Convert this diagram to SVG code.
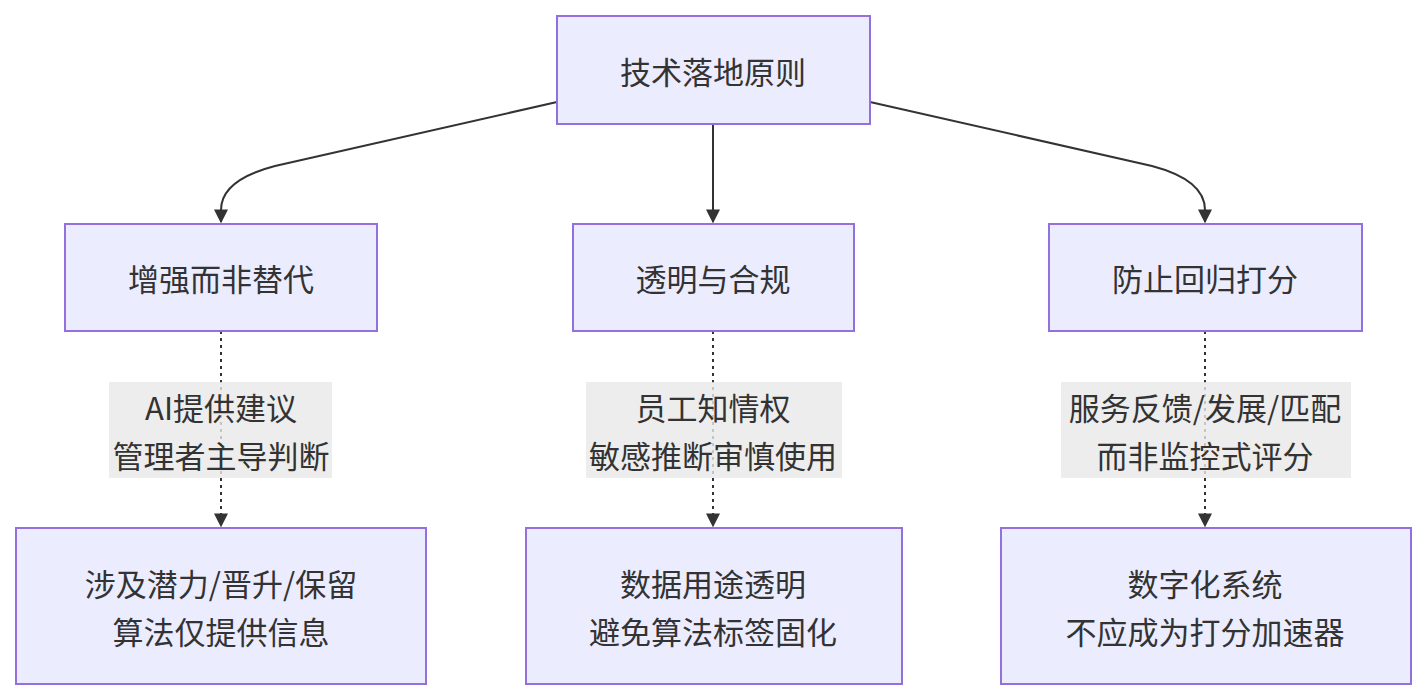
<svg xmlns="http://www.w3.org/2000/svg" width="1425" height="700" viewBox="0 0 1425 700">
<style>
.n{fill:#ECECFF;stroke:#9370DB;stroke-width:2}
.t{font-family:"Noto Sans CJK SC","Noto Sans",sans-serif;font-size:31px;fill:#333;text-anchor:middle;dominant-baseline:central}
.e{fill:none;stroke:#333;stroke-width:2}
.d{stroke-dasharray:3 4}
.lb{fill:rgba(232,232,232,0.8)}
</style>
<defs><marker id="a" viewBox="0 0 10 10" refX="9" refY="5" markerWidth="7" markerHeight="7" markerUnits="userSpaceOnUse" orient="auto"><path d="M0,0L10,5L0,10z" fill="#333"/></marker>
<marker id="ah" viewBox="0 0 10 10" refX="9" refY="5" markerWidth="14" markerHeight="14" markerUnits="userSpaceOnUse" orient="auto"><path d="M0,0L10,5L0,10z" fill="#333"/></marker></defs>
<g id="edges">
<path class="e" d="M557,102 L275,166 Q221,180 221,210 L221,222" marker-end="url(#ah)"/>
<path class="e" d="M870,102 L1152,166 Q1205,180 1205,210 L1205,222" marker-end="url(#ah)"/>
<path class="e" d="M713,124 L713,222" marker-end="url(#ah)"/>
<path class="e d" d="M221,331 L221,526" marker-end="url(#ah)"/>
<path class="e d" d="M713,331 L713,526" marker-end="url(#ah)"/>
<path class="e d" d="M1205,331 L1205,526" marker-end="url(#ah)"/>
<rect class="lb" x="109" y="382" width="223" height="96"/>
<text class="t" x="221" y="406">AI提供建议</text><text class="t" x="221" y="454">管理者主导判断</text>
<rect class="lb" x="586" y="382" width="256" height="96"/>
<text class="t" x="713" y="406">员工知情权</text><text class="t" x="713" y="454">敏感推断审慎使用</text>
<rect class="lb" x="1061" y="382" width="290" height="96"/>
<text class="t" x="1205" y="406">服务反馈/发展/匹配</text><text class="t" x="1205" y="454">而非监控式评分</text>
</g>
<g id="root"><rect class="n" x="557" y="16" width="313" height="108"/><text class="t" x="713" y="70">技术落地原则</text></g>
<g id="n1"><rect class="n" x="65" y="224" width="312" height="107"/><text class="t" x="221" y="277">增强而非替代</text></g>
<g id="n2"><rect class="n" x="573" y="224" width="281" height="107"/><text class="t" x="713" y="277">透明与合规</text></g>
<g id="n3"><rect class="n" x="1049" y="224" width="313" height="107"/><text class="t" x="1205" y="277">防止回归打分</text></g>
<g id="n4"><rect class="n" x="16" y="528" width="410" height="156"/><text class="t" x="221" y="582">涉及潜力/晋升/保留</text><text class="t" x="221" y="630">算法仅提供信息</text></g>
<g id="n5"><rect class="n" x="526" y="528" width="376" height="156"/><text class="t" x="713" y="582">数据用途透明</text><text class="t" x="713" y="630">避免算法标签固化</text></g>
<g id="n6"><rect class="n" x="1001" y="528" width="410" height="156"/><text class="t" x="1205" y="582">数字化系统</text><text class="t" x="1205" y="630">不应成为打分加速器</text></g>
</svg>
